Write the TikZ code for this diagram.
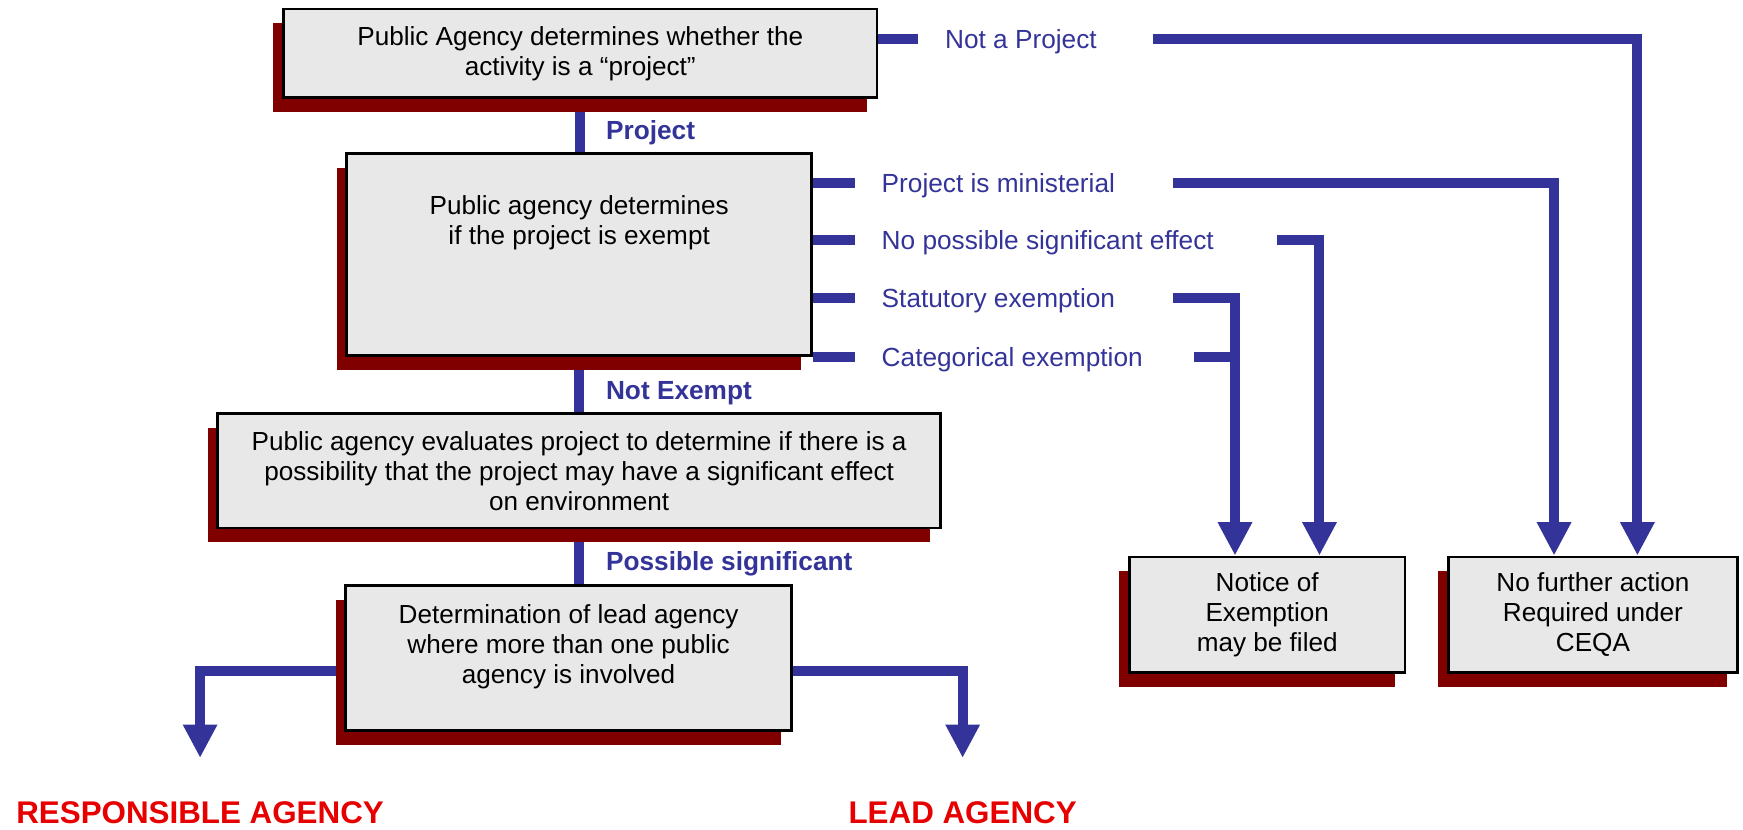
\documentclass[tikz,border=0pt]{standalone}
\usepackage{fontspec}
\setmainfont{Liberation Sans}
\usepackage{tikz}
\usetikzlibrary{arrows.meta,shadows,backgrounds}

\definecolor{flowblue}{HTML}{333399}
\definecolor{boxgray}{HTML}{E8E8E8}
\definecolor{shadowred}{HTML}{800000}
\definecolor{agencyred}{HTML}{E60000}

\newcommand{\boxfont}{\fontsize{23.5}{27}\selectfont}
\newcommand{\branchfont}{\fontsize{23.6}{27}\selectfont}
\newcommand{\agencyfont}{\fontsize{28.2}{30}\selectfont\bfseries}

\tikzset{
  box/.style={draw=black, line width=2.5pt, fill=boxgray, align=center, font=\boxfont, inner sep=0pt,
    drop shadow={shadow xshift=-9pt, shadow yshift=-13pt, fill=shadowred, opacity=1}},
  boxtext/.style={align=center, font=\boxfont, inner sep=0pt},
  branchlabel/.style={anchor=west, inner sep=0pt, text height=17pt, text depth=0pt, font=\branchfont, text=flowblue},
  passlabel/.style={branchlabel, font=\branchfont\bfseries},
  agency/.style={inner sep=0pt, text height=20pt, text depth=0pt, font=\agencyfont, text=agencyred},
  flow/.style={draw=flowblue, line width=9pt},
  flowarrow/.style={flow, -{Triangle[width=29pt,length=30pt]}}
}

\begin{document}
\begin{tikzpicture}[x=1pt,y=-1pt]
\useasboundingbox (0,0) rectangle (1568,746);

% boxes
\node[box, minimum width=534pt, minimum height=80pt] (activity) at (522,48) {Public Agency determines whether the\\activity is a “project”};
\node[box, minimum width=418pt, minimum height=182pt] (exempt) at (521,229) {};
\node[boxtext] (exempttext) at (521,200) {Public agency determines\\if the project is exempt};
\node[box, minimum width=650pt, minimum height=103pt] (evaluate) at (521,423.5) {Public agency evaluates project to determine if there is a\\possibility that the project may have a significant effect\\on environment};
\node[box, minimum width=401pt, minimum height=130pt] (leadbox) at (511.5,592) {};
\node[boxtext] (leadtext) at (511.5,582) {Determination of lead agency\\where more than one public\\agency is involved};
\node[box, minimum width=248pt, minimum height=104pt] (notice) at (1140,553) {Notice of\\Exemption\\may be filed};
\node[box, minimum width=260pt, minimum height=104pt] (nofurther) at (1433,553) {No further action\\Required under\\CEQA};

% labels
\node[passlabel] (projlabel) at (545,117) {Project};
\node[passlabel] (notexlabel) at (545,351) {Not Exempt};
\node[passlabel] (possiblelabel) at (545,505) {Possible significant};
\node[branchlabel] (notproj) at (850,35) {Not a Project};
\node[branchlabel] (minist) at (793,165) {Project is ministerial};
\node[branchlabel] (nosig) at (793,216) {No possible significant effect};
\node[branchlabel] (statut) at (793,268) {Statutory exemption};
\node[branchlabel] (categ) at (793,321) {Categorical exemption};
\node[agency] (resp) at (180,731) {RESPONSIBLE AGENCY};
\node[agency] (leadag) at (866,731) {LEAD AGENCY};

\coordinate (noticein) at ([xshift=-29pt]notice.north);

% connectors
\begin{pgfonlayer}{background}
\draw[flow] (activity.south) -- (activity.south |- exempt.north);
\draw[flow] (exempt.south) -- (exempt.south |- evaluate.north);
\draw[flow] (evaluate.south) -- (evaluate.south |- leadbox.north);

\draw[flow] (activity.east |- notproj.west) -- ([xshift=-24pt]notproj.west);
\draw[flowarrow] ([xshift=50pt]notproj.east) -| ([xshift=40pt]nofurther.north);

\draw[flow] (exempt.east |- minist.west) -- ([xshift=-24pt]minist.west);
\draw[flow] (exempt.east |- nosig.west) -- ([xshift=-24pt]nosig.west);
\draw[flow] (exempt.east |- statut.west) -- ([xshift=-24pt]statut.west);
\draw[flow] (exempt.east |- categ.west) -- ([xshift=-24pt]categ.west);

\draw[flowarrow] ([xshift=52pt]minist.east) -| ([xshift=-35pt]nofurther.north);
\draw[flowarrow] ([xshift=57pt]nosig.east) -| ([xshift=47pt]notice.north);
\draw[flowarrow] ([xshift=52pt]statut.east) -| (noticein);
\draw[flow] ([xshift=46pt]categ.east) -- (categ.east -| noticein);

\draw[flowarrow] ([yshift=-12pt]leadbox.west) -| ([yshift=39pt]resp.north);
\draw[flowarrow] ([yshift=-12pt]leadbox.east) -| ([yshift=39pt]leadag.north);
\end{pgfonlayer}
\end{tikzpicture}
\end{document}
